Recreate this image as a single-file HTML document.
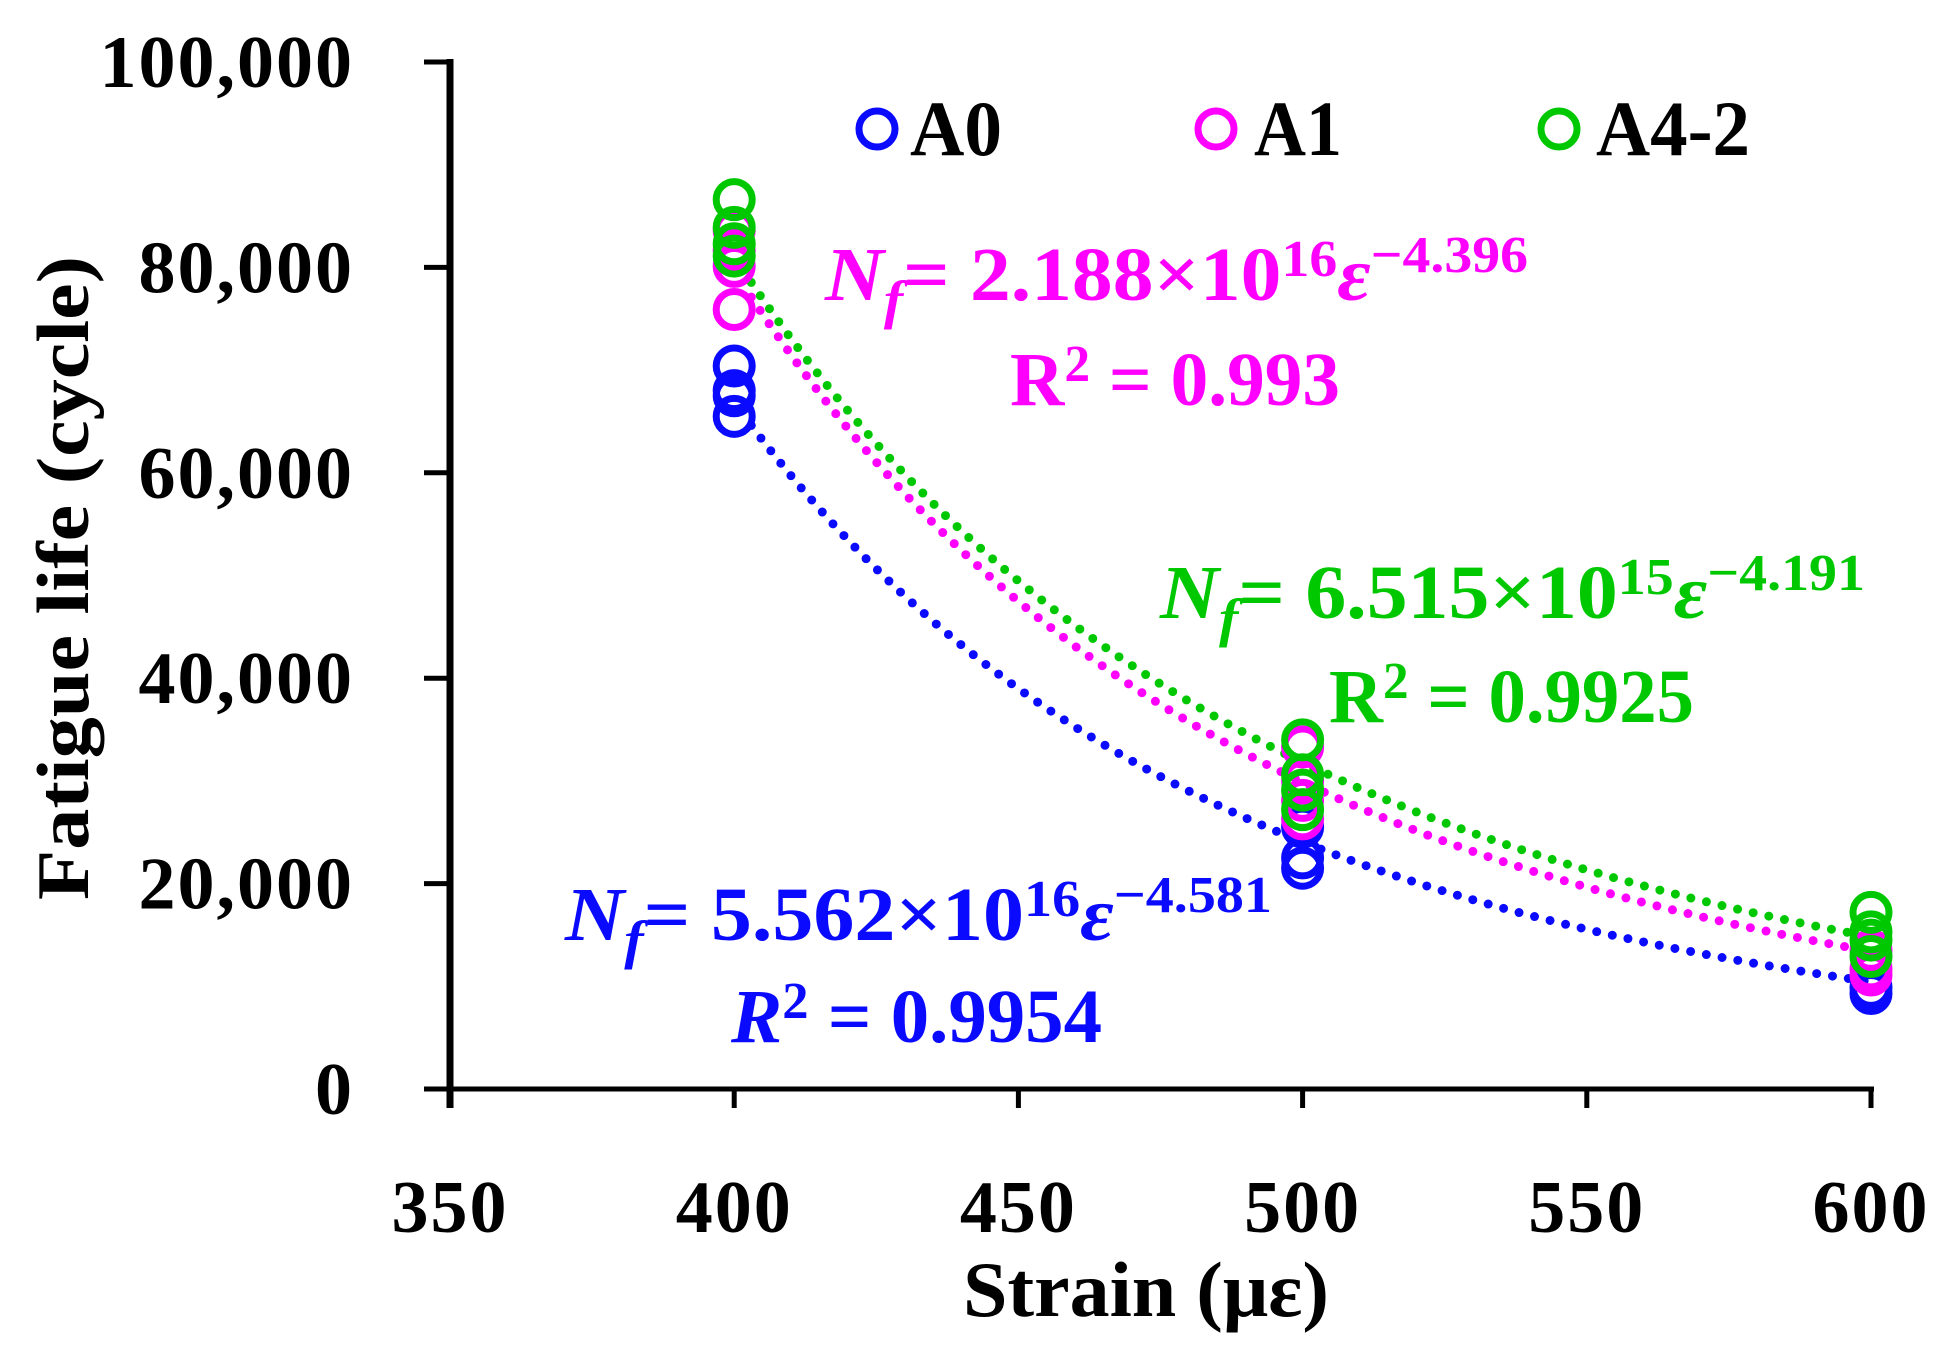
<!DOCTYPE html>
<html><head><meta charset="utf-8"><style>
html,body{margin:0;padding:0;background:#fff;}
svg{display:block;font-family:"Liberation Serif",serif;font-weight:bold;}
</style></head><body>
<svg id="chart" width="1960" height="1366" viewBox="0 0 1960 1366" xmlns="http://www.w3.org/2000/svg">
<g id="axes"></g>
<g id="fits"></g>
<g id="pts"></g>
<g font-size="78">
  <g><circle cx="877" cy="129" r="18" fill="none" stroke="#0a0aff" stroke-width="7"/><text x="910" y="155" textLength="92" lengthAdjust="spacingAndGlyphs">A0</text></g>
  <g><circle cx="1216" cy="129" r="18" fill="none" stroke="#ff00ff" stroke-width="7"/><text x="1254" y="155" textLength="88" lengthAdjust="spacingAndGlyphs">A1</text></g>
  <g><circle cx="1559" cy="129" r="18" fill="none" stroke="#00c800" stroke-width="7"/><text x="1596" y="155" textLength="154" lengthAdjust="spacingAndGlyphs">A4-2</text></g>
</g>
<g fill="#ff00ff" font-size="76">
  <text x="825" y="300" textLength="703" lengthAdjust="spacingAndGlyphs"><tspan font-style="italic">N</tspan><tspan font-style="italic" font-size="54" dy="18">f</tspan><tspan dy="-18">= 2.188×10</tspan><tspan font-size="52" dy="-24">16</tspan><tspan font-style="italic" dy="24">ε</tspan><tspan font-size="52" dy="-28">−4.396</tspan></text>
  <text x="1010" y="405" textLength="330" lengthAdjust="spacingAndGlyphs">R<tspan font-size="52" dy="-24">2</tspan><tspan dy="24"> = 0.993</tspan></text>
</g>
<g fill="#00c800" font-size="76">
  <text x="1160" y="618" textLength="705" lengthAdjust="spacingAndGlyphs"><tspan font-style="italic">N</tspan><tspan font-style="italic" font-size="54" dy="18">f</tspan><tspan dy="-18">= 6.515×10</tspan><tspan font-size="52" dy="-24">15</tspan><tspan font-style="italic" dy="24">ε</tspan><tspan font-size="52" dy="-28">−4.191</tspan></text>
  <text x="1329" y="722" textLength="365" lengthAdjust="spacingAndGlyphs">R<tspan font-size="52" dy="-24">2</tspan><tspan dy="24"> = 0.9925</tspan></text>
</g>
<g fill="#0a0aff" font-size="76">
  <text x="565" y="940" textLength="707" lengthAdjust="spacingAndGlyphs"><tspan font-style="italic">N</tspan><tspan font-style="italic" font-size="54" dy="18">f</tspan><tspan dy="-18">= 5.562×10</tspan><tspan font-size="52" dy="-24">16</tspan><tspan font-style="italic" dy="24">ε</tspan><tspan font-size="52" dy="-28">−4.581</tspan></text>
  <text x="731" y="1042" textLength="371" lengthAdjust="spacingAndGlyphs"><tspan font-style="italic">R</tspan><tspan font-size="52" dy="-24">2</tspan><tspan dy="24"> = 0.9954</tspan></text>
</g>
<text x="1146" y="1316" font-size="78" text-anchor="middle" textLength="366" lengthAdjust="spacingAndGlyphs">Strain (με)</text>
<text transform="translate(88,578) rotate(-90)" font-size="74" text-anchor="middle" textLength="644" lengthAdjust="spacingAndGlyphs">Fatigue life (cycle)</text>
</svg>
<script>
const xTicks = [350, 400, 450, 500, 550, 600];
const yTicks = [0, 20000, 40000, 60000, 80000, 100000];
const yTickLabels = ["0", "20,000", "40,000", "60,000", "80,000", "100,000"];
const strains = [400, 500, 600];
const a0Values = [[70400, 68000, 67500, 65500], [25500, 22500, 21500], [9900, 9300]];
const a1Values = [[83600, 81700, 80100, 75900], [33300, 30000, 28100, 26300], [13500, 11700, 11100]];
const a42Values = [[86600, 83900, 82300, 81100], [34000, 30600, 29100, 27200], [17200, 15300, 14500, 12900]];
const fitA = [5.562e16, 2.188e16, 6.515e15];
const fitB = [-4.581, -4.396, -4.191];
const seriesNames = ["a0", "a1", "a4-2"];
const colors = ["#0a0aff", "#ff00ff", "#00c800"];

const NS = "http://www.w3.org/2000/svg";
function X(v){ return 450 + (v - 350) * (1871 - 450) / 250; }
function Y(v){ return 1089 - v * (1089 - 62) / 100000; }
function mk(tag, attrs, parent){ const e = document.createElementNS(NS, tag); for (const k in attrs) e.setAttribute(k, attrs[k]); parent.appendChild(e); return e; }

const axes = document.getElementById('axes');
let l = mk('line', {x1:450, y1:Y(100000)-3, x2:450, y2:1108, stroke:'#000', 'stroke-width':7}, axes);


l = mk('line', {x1:450, y1:1089, x2:X(600)+3, y2:1089, stroke:'#000', 'stroke-width':5}, axes);


yTicks.forEach((v, i) => {
  const t = mk('line', {x1:424, y1:Y(v), x2:450, y2:Y(v), stroke:'#000', 'stroke-width':5}, axes);
  
  
  const tx = mk('text', {x:354, y:Y(v)+25, 'font-size':74, 'text-anchor':'end', 'letter-spacing':2}, axes);
  tx.textContent = yTickLabels[i];
  
  
});
xTicks.forEach(v => {
  const t = mk('line', {x1:X(v), y1:1089, x2:X(v), y2:1108, stroke:'#000', 'stroke-width':5}, axes);
  
  
  const tx = mk('text', {x:X(v), y:1232, 'font-size':74, 'text-anchor':'middle', 'letter-spacing':2}, axes);
  tx.textContent = String(v);
  
  
});

const fits = document.getElementById('fits');
[0,1,2].forEach(s => {
  let d = '';
  for (let e = 403; e <= 600; e += 1) {
    const v = fitA[s] * Math.pow(e, fitB[s]);
    d += (e === 403 ? 'M' : 'L') + X(e).toFixed(1) + ',' + Y(v).toFixed(1);
  }
  const p = mk('path', {d:d, fill:'none', stroke:colors[s], 'stroke-width':9, 'stroke-linecap':'round', 'stroke-dasharray':'0 16'}, fits);
  
  
});

const pts = document.getElementById('pts');
[a0Values, a1Values, a42Values].forEach((vals, s) => {
  vals.forEach((group, gi) => {
    group.forEach(v => {
      const c = mk('circle', {cx:X(strains[gi]), cy:Y(v), r:18, fill:'none', stroke:colors[s], 'stroke-width':7}, pts);
      
      
    });
  });
});
</script>
</body></html>
